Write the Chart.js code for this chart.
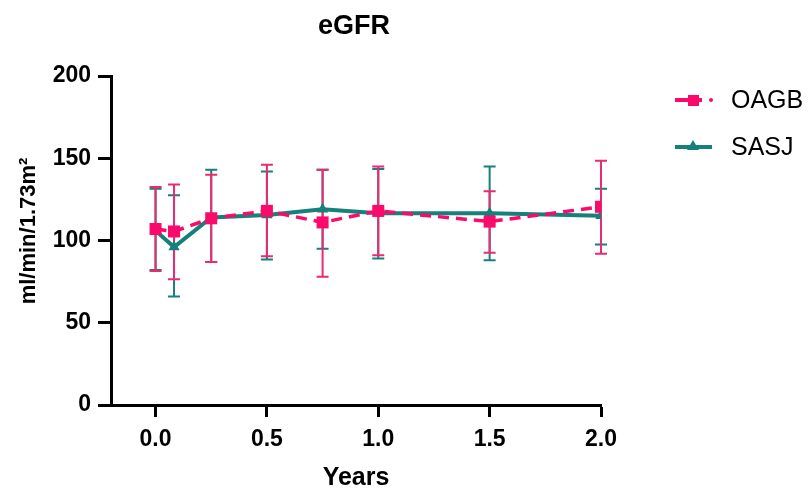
<!DOCTYPE html>
<html>
<head>
<meta charset="utf-8">
<script src="https://cdn.jsdelivr.net/npm/chart.js@4.4.1/dist/chart.umd.min.js"></script>
<style>
  html, body { margin: 0; padding: 0; background: #fff; }
  #wrap { width: 812px; height: 492px; }
</style>
</head>
<body>
<div id="wrap"><canvas id="chart" width="812" height="492"></canvas></div>
<script>
// --- datos ---
const years = [0, 0.083, 0.25, 0.5, 0.75, 1.0, 1.5, 2.0];
const xTicks = [0, 0.5, 1.0, 1.5, 2.0];
const yTicks = [0, 50, 100, 150, 200];

const oagbMean  = [107, 105.5, 113.5, 118, 111, 118, 111.5, 120.5];
const oagbUpper = [132.5, 134, 140, 146, 143, 145, 130, 148.5];
const oagbLower = [81.5, 76.5, 87, 90.5, 78, 91, 92.5, 92];

const sasjMean  = [106, 96, 114, 115.5, 119, 116.5, 116.5, 115];
const sasjUpper = [131.5, 127.5, 143, 142, 143, 143.5, 145, 131.5];
const sasjLower = [82, 66, 87, 88.5, 95, 89, 88, 97.5];

const PINK = '#FA0A6A';
const PINK_BAR = '#EC2A72';
const TEAL = '#15807C';
const FONT = '"Liberation Sans", Arial, Helvetica, sans-serif';

const toPoints = (xs, ys) => xs.map((x, i) => ({ x: x, y: ys[i] }));

// barras de error (dibujadas con las escalas del gráfico)
const errorBars = {
    id: 'errorBars',
    beforeDatasetsDraw(chart) {
        const ctx = chart.ctx;
        const xs = chart.scales.x, ys = chart.scales.y;
        const sets = [
            { lo: sasjLower, hi: sasjUpper, color: TEAL },
            { lo: oagbLower, hi: oagbUpper, color: PINK_BAR }
        ];
        ctx.save();
        sets.forEach(s => {
            ctx.strokeStyle = s.color;
            ctx.lineWidth = 2;
            years.forEach((yr, i) => {
                const px = xs.getPixelForValue(yr);
                const top = ys.getPixelForValue(s.hi[i]);
                const bot = ys.getPixelForValue(s.lo[i]);
                ctx.beginPath();
                ctx.moveTo(px, top); ctx.lineTo(px, bot);
                ctx.moveTo(px - 6, top); ctx.lineTo(px + 6, top);
                ctx.moveTo(px - 6, bot); ctx.lineTo(px + 6, bot);
                ctx.stroke();
            });
        });
        ctx.restore();
    }
};

// títulos y leyenda
const labels = {
    id: 'labels',
    afterDraw(chart) {
        const ctx = chart.ctx;
        ctx.save();
        ctx.fillStyle = '#000';
        ctx.textAlign = 'center';
        ctx.textBaseline = 'middle';
        ctx.font = 'bold 27px ' + FONT;
        ctx.fillText('eGFR', 354, 27);
        ctx.font = 'bold 25px ' + FONT;
        ctx.fillText('Years', 356, 478);
        ctx.font = 'bold 22px ' + FONT;
        ctx.translate(29, 231);
        ctx.rotate(-Math.PI / 2);
        ctx.fillText('ml/min/1.73m\u00B2', 0, 0);
        ctx.restore();

        // leyenda
        ctx.save();
        ctx.font = '25px ' + FONT;
        ctx.textBaseline = 'middle';
        // OAGB
        ctx.strokeStyle = PINK; ctx.fillStyle = PINK; ctx.lineWidth = 4;
        ctx.beginPath(); ctx.moveTo(675, 100); ctx.lineTo(690, 100); ctx.stroke();
        ctx.beginPath(); ctx.moveTo(698, 100); ctx.lineTo(702, 100); ctx.stroke();
        ctx.beginPath(); ctx.arc(711, 100, 2, 0, Math.PI * 2); ctx.fill();
        ctx.fillRect(688, 95, 11, 11);
        // SASJ
        ctx.strokeStyle = TEAL; ctx.fillStyle = TEAL;
        ctx.beginPath(); ctx.moveTo(675, 147); ctx.lineTo(712, 147); ctx.stroke();
        ctx.beginPath(); ctx.moveTo(693, 140); ctx.lineTo(699, 150); ctx.lineTo(687, 150); ctx.closePath(); ctx.fill();
        ctx.fillStyle = '#000';
        ctx.fillText('OAGB', 731, 101);
        ctx.fillText('SASJ', 731, 148);
        ctx.restore();
    }
};

new Chart(document.getElementById('chart'), {
    type: 'line',
    data: {
        datasets: [
            {
                label: 'OAGB',
                data: toPoints(years, oagbMean),
                borderColor: PINK,
                backgroundColor: PINK,
                borderWidth: 3.5,
                borderDash: [11, 7],
                pointStyle: 'rect',
                pointRadius: 8.5,
                pointBorderWidth: 0,
                pointHoverRadius: 8.5,
                tension: 0
            },
            {
                label: 'SASJ',
                data: toPoints(years, sasjMean),
                borderColor: TEAL,
                backgroundColor: TEAL,
                borderWidth: 4,
                pointStyle: 'triangle',
                pointRadius: 6.5,
                pointBorderWidth: 0,
                pointHoverRadius: 6.5,
                tension: 0
            }
        ]
    },
    options: {
        responsive: false,
        animation: false,
        layout: { padding: { top: 76, right: 211, left: 0, bottom: 0 } },
        plugins: {
            legend: { display: false },
            title: { display: false },
            tooltip: { enabled: false }
        },
        scales: {
            x: {
                type: 'linear',
                min: -0.2,
                max: 2.0,
                afterBuildTicks: s => { s.ticks = xTicks.map(v => ({ value: v })); },
                afterFit: s => { s.height = 87; },
                border: { display: true, color: '#000', width: 3 },
                grid: { drawOnChartArea: false, tickLength: 12, tickWidth: 3, tickColor: '#000' },
                ticks: {
                    color: '#000',
                    padding: 9,
                    maxRotation: 0,
                    font: { family: FONT, size: 23, weight: 'bold' },
                    callback: v => Number(v).toFixed(1)
                }
            },
            y: {
                min: 0,
                max: 200,
                afterBuildTicks: s => { s.ticks = yTicks.map(v => ({ value: v })); },
                afterFit: s => { s.width = 111; },
                border: { display: true, color: '#000', width: 3 },
                grid: { drawOnChartArea: false, tickLength: 13, tickWidth: 3, tickColor: '#000' },
                ticks: {
                    color: '#000',
                    padding: 7,
                    font: { family: FONT, size: 23, weight: 'bold' }
                }
            }
        }
    },
    plugins: [errorBars, labels]
});
</script>
</body>
</html>
